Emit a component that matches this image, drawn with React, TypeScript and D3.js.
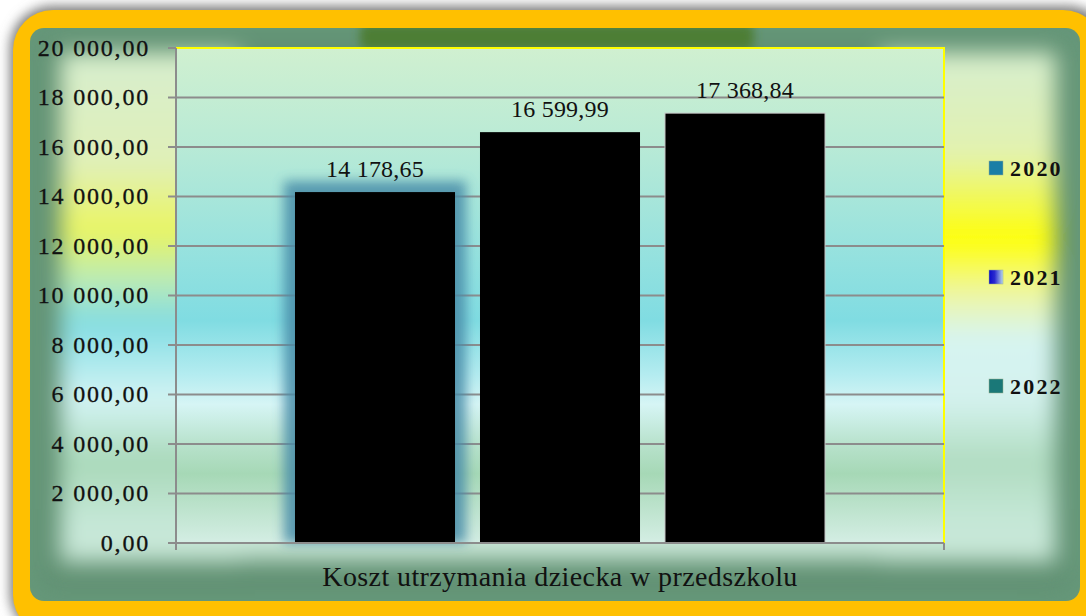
import React from "react";
import * as d3 from "d3";

const categories = ["Koszt utrzymania dziecka w przedszkolu"];
const seriesNames = ["2020", "2021", "2022"];
const seriesValues = [14178.65, 16599.99, 17368.84];
const yTicks = [0, 2000, 4000, 6000, 8000, 10000, 12000, 14000, 16000, 18000, 20000];
const legendColors = ["#1A7EA6", "url(#lg2021)", "#1A7878"];

const W = 1086;
const H = 616;
const plot = { left: 176, right: 944, top: 48, bottom: 543 };
const FONT = "'Liberation Serif', 'DejaVu Serif', serif";

const fmt = (v: number) => {
  const s = v.toFixed(2);
  const [i, d] = s.split(".");
  const ip = i.replace(/\B(?=(\d{3})+(?!\d))/g, " ");
  return `${ip},${d}`;
};

export default function App() {
  const y = d3.scaleLinear().domain([0, 20000]).range([plot.bottom, plot.top]);
  const x0 = d3
    .scaleBand<string>()
    .domain(categories)
    .range([plot.left, plot.right])
    .paddingInner(0)
    .paddingOuter(0.2245);
  const x1 = d3
    .scaleBand<string>()
    .domain(seriesNames)
    .range([0, x0.bandwidth()])
    .paddingInner(0.135)
    .paddingOuter(0);
  const cat = categories[0];
  const gx = x0(cat) as number;

  const gridColor = "#8C8C8C";

  return (
    <svg
      width={W}
      height={H}
      style={{ position: "absolute", left: 0, top: 0, display: "block" }}
    >
      <defs>
        <filter id="outerShadow" x="-10%" y="-10%" width="120%" height="120%">
          <feGaussianBlur stdDeviation="6" />
        </filter>
        <filter id="softBlur" x="-20%" y="-20%" width="140%" height="140%">
          <feGaussianBlur stdDeviation="11" />
        </filter>
        <filter id="blobBlur" x="-20%" y="-100%" width="140%" height="300%">
          <feGaussianBlur stdDeviation="5" />
        </filter>
        <filter id="glow" x="-30%" y="-30%" width="160%" height="160%">
          <feGaussianBlur stdDeviation="6" />
        </filter>
        <clipPath id="innerClip">
          <rect x={30} y={28} width={1050} height={573} rx={14} />
        </clipPath>
        <linearGradient id="leftGrad" gradientUnits="userSpaceOnUse" x1="0" y1="50" x2="0" y2="565">
          <stop offset="0" stopColor="#D6EECF" />
          <stop offset="0.22" stopColor="#E0F0B8" />
          <stop offset="0.35" stopColor="#EAF560" />
          <stop offset="0.45" stopColor="#B8EAB8" />
          <stop offset="0.53" stopColor="#82DCE2" />
          <stop offset="0.6" stopColor="#A8E8EC" />
          <stop offset="0.68" stopColor="#D4F4F4" />
          <stop offset="0.8" stopColor="#A8D8B8" />
          <stop offset="0.92" stopColor="#C6E8D8" />
          <stop offset="1" stopColor="#C8E6D6" />
        </linearGradient>
        <linearGradient id="rightGrad" gradientUnits="userSpaceOnUse" x1="0" y1="50" x2="0" y2="565">
          <stop offset="0" stopColor="#D6EECF" />
          <stop offset="0.2" stopColor="#E2F2B0" />
          <stop offset="0.37" stopColor="#FFFF00" />
          <stop offset="0.47" stopColor="#EEF6A0" />
          <stop offset="0.56" stopColor="#D6F4F2" />
          <stop offset="0.68" stopColor="#D4F2EE" />
          <stop offset="0.8" stopColor="#B0DCC0" />
          <stop offset="0.92" stopColor="#C6E8D8" />
          <stop offset="1" stopColor="#C8E6D6" />
        </linearGradient>
        <linearGradient id="plotGrad" gradientUnits="userSpaceOnUse" x1="0" y1={plot.top} x2="0" y2={plot.bottom}>
          <stop offset="0" stopColor="#D0F0D0" />
          <stop offset="0.2" stopColor="#B8EAD6" />
          <stop offset="0.4" stopColor="#98E2DE" />
          <stop offset="0.55" stopColor="#80DCE2" />
          <stop offset="0.66" stopColor="#B4ECF0" />
          <stop offset="0.72" stopColor="#D6F5F5" />
          <stop offset="0.8" stopColor="#B8E2CC" />
          <stop offset="0.86" stopColor="#A6D8B6" />
          <stop offset="1" stopColor="#D4EEE4" />
        </linearGradient>
        <linearGradient id="lg2021" x1="0" y1="0" x2="1" y2="0">
          <stop offset="0" stopColor="#0A0AC8" />
          <stop offset="0.4" stopColor="#2A2AD0" />
          <stop offset="1" stopColor="#B8D8E8" />
        </linearGradient>
      </defs>

      <rect x={0} y={0} width={W} height={H} fill="#FFFFFF" />
      {/* outer shadow */}
      <rect x={10} y={6} width={1100} height={630} rx={42} fill="#7A7A7A" filter="url(#outerShadow)" />
      {/* yellow frame */}
      <rect x={13} y={10} width={1090} height={625} rx={40} fill="#FFC000" />
      {/* green inner */}
      <rect x={30} y={28} width={1050} height={573} rx={14} fill="#66987A" />
      <g clipPath="url(#innerClip)">
        <rect x={40} y={36} width={1030} height={555} rx={14} fill="#5E8C6E" filter="url(#softBlur)" opacity={0.6} />
        <g filter="url(#softBlur)">
          <rect x={60} y={52} width={180} height={510} fill="url(#leftGrad)" />
          <rect x={880} y={52} width={176} height={510} fill="url(#rightGrad)" />
          <rect x={200} y={500} width={720} height={60} fill="#C8E6D6" />
        </g>
        <rect x={360} y={24} width={394} height={26} rx={8} fill="#4E7E34" filter="url(#blobBlur)" />
      </g>

      {/* plot area */}
      <rect
        x={plot.left}
        y={plot.top}
        width={plot.right - plot.left}
        height={plot.bottom - plot.top}
        fill="url(#plotGrad)"
      />
      <line x1={plot.left} x2={plot.right + 1} y1={plot.top} y2={plot.top} stroke="#FFFF00" strokeWidth={2} />
      <line x1={plot.right} x2={plot.right} y1={plot.top} y2={plot.bottom} stroke="#FFFF00" strokeWidth={2} />

      {/* gridlines + ticks */}
      {yTicks.map((t) => (
        <g key={t}>
          {t > 0 && t < 20000 && (
            <line x1={plot.left} x2={plot.right} y1={y(t)} y2={y(t)} stroke={gridColor} strokeWidth={2} />
          )}
          <line x1={plot.left - 8} x2={plot.left} y1={y(t)} y2={y(t)} stroke={gridColor} strokeWidth={2} />
          <text
            x={150}
            y={y(t)}
            dy="0.33em"
            textAnchor="end"
            fontFamily={FONT}
            fontSize={24}
            letterSpacing={1.8}
            stroke="#111"
            strokeWidth={0.3}
            fill="#111"
          >
            {fmt(t)}
          </text>
        </g>
      ))}

      {/* glow behind first bar */}
      {seriesValues.slice(0, 1).map((v, i) => {
        const bx = gx + (x1(seriesNames[i]) as number);
        return (
          <rect
            key={"g" + i}
            x={bx - 11}
            y={y(v) - 11}
            width={x1.bandwidth() + 22}
            height={plot.bottom - y(v) + 11}
            fill="#4A8CA8"
            opacity={0.85}
            filter="url(#glow)"
          />
        );
      })}

      {/* bars */}
      {seriesValues.map((v, i) => {
        const bx = gx + (x1(seriesNames[i]) as number);
        return (
          <rect
            key={i}
            x={bx}
            y={y(v)}
            width={x1.bandwidth()}
            height={plot.bottom - y(v)}
            fill="#000"
            stroke={i === 2 ? "#C8C8C8" : "none"}
            strokeWidth={1}
          />
        );
      })}

      {/* axes */}
      <line x1={plot.left} x2={plot.left} y1={plot.top} y2={plot.bottom + 7} stroke={gridColor} strokeWidth={2} />
      <line x1={plot.left - 8} x2={plot.right} y1={plot.bottom} y2={plot.bottom} stroke={gridColor} strokeWidth={2} />
      <line x1={plot.right} x2={plot.right} y1={plot.bottom} y2={plot.bottom + 7} stroke={gridColor} strokeWidth={2} />

      {/* data labels */}
      {seriesValues.map((v, i) => {
        const bx = gx + (x1(seriesNames[i]) as number) + x1.bandwidth() / 2;
        return (
          <text
            key={"l" + i}
            x={bx}
            y={y(v) - 15}
            textAnchor="middle"
            fontFamily={FONT}
            fontSize={24}
            letterSpacing={0.2}
            fill="#111"
          >
            {fmt(v)}
          </text>
        );
      })}

      {/* category label */}
      <text
        x={gx + x0.bandwidth() / 2}
        y={586}
        textAnchor="middle"
        fontFamily={FONT}
        fontSize={28}
        letterSpacing={0.4}
        fill="#111"
      >
        {cat}
      </text>

      {/* legend */}
      {seriesNames.map((s, i) => {
        const ly = 168 + i * 109;
        return (
          <g key={s}>
            <rect x={989} y={ly - 7} width={14} height={14} fill={legendColors[i]} stroke="#9AB08A" strokeWidth={0.5} />
            <text
              x={1010}
              y={ly}
              dy="0.35em"
              fontFamily={FONT}
              fontSize={22}
              fontWeight="bold"
              letterSpacing={2.2}
              fill="#111"
            >
              {s}
            </text>
          </g>
        );
      })}
    </svg>
  );
}
